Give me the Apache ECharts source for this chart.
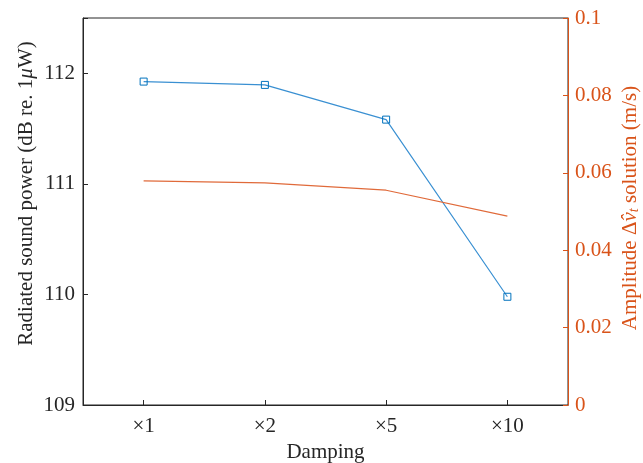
<!DOCTYPE html>
<html><head><meta charset="utf-8">
<script src="https://cdn.jsdelivr.net/npm/echarts@6/dist/echarts.min.js"></script>
<style>html,body{margin:0;padding:0;background:#fff}#c{width:643px;height:463px}</style>
</head><body><div id="c"></div>
<script>
const categories = ['×1', '×2', '×5', '×10'];
const soundPower = [111.925, 111.895, 111.581, 109.979];
const amplitude = [0.0579, 0.0574, 0.0555, 0.0488];
const leftTicks = [109, 110, 111, 112];
const rightTicks = [0, 0.02, 0.04, 0.06, 0.08, 0.1];

const FONT = 'Liberation Serif';
const DARK = '#262626';
const BLUE = '#0072BD';
const ORANGE = '#D95319';

const chart = echarts.init(document.getElementById('c'), null, {renderer: 'canvas'});
chart.setOption({
  animation: false,
  backgroundColor: '#fff',
  grid: {left: 83, right: 75, top: 18, bottom: 58, containLabel: false, outerBoundsMode: 'none',
    show: true, borderColor: DARK, borderWidth: 1},
  xAxis: {
    type: 'category', data: categories, boundaryGap: true,
    name: 'Damping', nameLocation: 'middle', nameGap: 37, nameMoveOverlap: false,
    nameTextStyle: {fontFamily: FONT, fontSize: 21, color: DARK},
    axisLine: {lineStyle: {color: DARK, width: 1}},
    axisTick: {show: true, alignWithLabel: true, inside: true, length: 5, lineStyle: {color: DARK}},
    axisLabel: {fontFamily: FONT, fontSize: 21, color: DARK, margin: 11},
    splitLine: {show: false}
  },
  yAxis: [{
    type: 'value', min: 109, max: 112.5, interval: 1, position: 'left',
    name: 'Radiated sound power (dB re. 1{i|μ}W)', nameLocation: 'middle', nameGap: 46, nameRotate: 90,
    nameMoveOverlap: false,
    nameTextStyle: {fontFamily: FONT, fontSize: 21, color: DARK, padding: [0, 0, 0, 36],
      rich: {i: {fontFamily: FONT, fontSize: 21, fontStyle: 'italic', color: DARK}}},
    axisLine: {show: true, lineStyle: {color: DARK, width: 1}},
    axisTick: {show: true, inside: true, length: 5, lineStyle: {color: DARK}},
    axisLabel: {fontFamily: FONT, fontSize: 21, color: DARK, margin: 8,
      formatter: v => leftTicks.includes(v) ? String(v) : ''},
    splitLine: {show: false}
  }, {
    type: 'value', min: 0, max: 0.1, interval: 0.02, position: 'right',
    name: '{a|Amplitude Δ}{v|v̂}{s|t}{a| solution (m/s)}', nameLocation: 'middle', nameGap: 51, nameRotate: 90,
    nameMoveOverlap: false,
    nameTextStyle: {fontFamily: FONT, fontSize: 21, color: ORANGE, padding: [0, 0, 0, 7],
      rich: {
        a: {fontFamily: FONT, fontSize: 21, color: ORANGE},
        v: {fontFamily: FONT, fontSize: 21, fontStyle: 'italic', color: ORANGE},
        s: {fontFamily: FONT, fontSize: 14, fontStyle: 'italic', color: ORANGE, verticalAlign: 'bottom', padding: [8, 0, 0, 0]}
      }},
    axisLine: {show: true, lineStyle: {color: ORANGE, width: 1}},
    axisTick: {show: true, inside: true, length: 5, lineStyle: {color: ORANGE}},
    axisLabel: {fontFamily: FONT, fontSize: 21, color: ORANGE, margin: 7,
      formatter: v => rightTicks.some(t => Math.abs(t - v) < 1e-9) ? String(+v.toFixed(2)) : ''},
    splitLine: {show: false}
  }],
  series: [{
    type: 'line', yAxisIndex: 0, data: soundPower,
    symbol: 'rect', symbolSize: 7, showAllSymbol: true,
    lineStyle: {color: '#3a90d2', width: 1.2},
    itemStyle: {color: 'rgba(0,0,0,0)', borderColor: BLUE, borderWidth: 1}
  }, {
    type: 'line', yAxisIndex: 1, data: amplitude,
    symbol: 'none',
    lineStyle: {color: '#e06a3a', width: 1.2}
  }]
});
</script></body></html>
